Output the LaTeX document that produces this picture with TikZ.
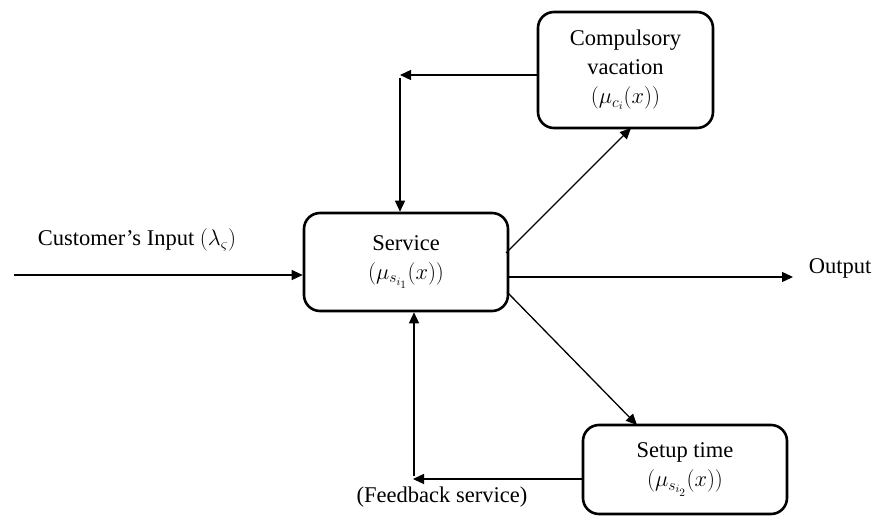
\RequirePackage{fix-cm}
\documentclass[tikz,border=0pt]{standalone}
\usepackage{fontspec}
\setmainfont{Liberation Serif}
\usetikzlibrary{arrows.meta}
\begin{document}
\begin{tikzpicture}[x=1pt,y=-1pt,
  box/.style={draw,line width=2.6pt,rounded corners=16pt,align=center,inner sep=0pt},
  arr/.style={line width=1.3pt,-{Triangle[length=11pt,width=10pt]}},
  lbl/.style={inner sep=0pt,anchor=center},
  every node/.append style={font=\fontsize{22.5}{29}\selectfont}]
\useasboundingbox (0,0) rectangle (876,519);
\node[box,minimum width=204pt,minimum height=98pt] (service) at (406,262) {Service\\$(\mu_{s_{i_1}}(x))$};
\node[box,minimum width=175pt,minimum height=116pt] (vac) at (625.5,70) {Compulsory\\vacation\\$(\mu_{c_i}(x))$};
\node[box,minimum width=204pt,minimum height=89pt] (setup) at (685,469.5) {Setup time\\$(\mu_{s_{i_2}}(x))$};
% input
\coordinate (in) at (14,275);
\draw[arr] (in) -- (in -| service.west);
\node[lbl] (inlbl) at (137,240) {Customer’s Input $(\lambda_\varsigma)$};
% output
\coordinate (outs) at (508,277);
\coordinate (oute) at (793,277);
\draw[arr] (outs) -- (oute);
\node[lbl] (outlbl) at (840,268) {Output};
% top feedback from vacation
\coordinate (c1) at (400,75);
\coordinate (c1b) at (400,78);
\draw[arr] (vac.west |- c1) -- (c1);
\draw[arr] (c1b) -- (c1b |- service.north);
% diagonals
\coordinate (d1s) at (506,253);
\coordinate (d1e) at (631,128);
\draw[arr] (d1s) -- (d1e);
\coordinate (d2s) at (507,292);
\coordinate (d2e) at (637,425);
\draw[arr] (d2s) -- (d2e);
% bottom feedback
\coordinate (c2) at (413,479);
\coordinate (c2b) at (414,476);
\draw[arr] (setup.west |- c2) -- (c2);
\draw[arr] (c2b) -- (c2b |- service.south);
\node[lbl] (fb) at (442,497) {(Feedback service)};
\end{tikzpicture}
\end{document}
